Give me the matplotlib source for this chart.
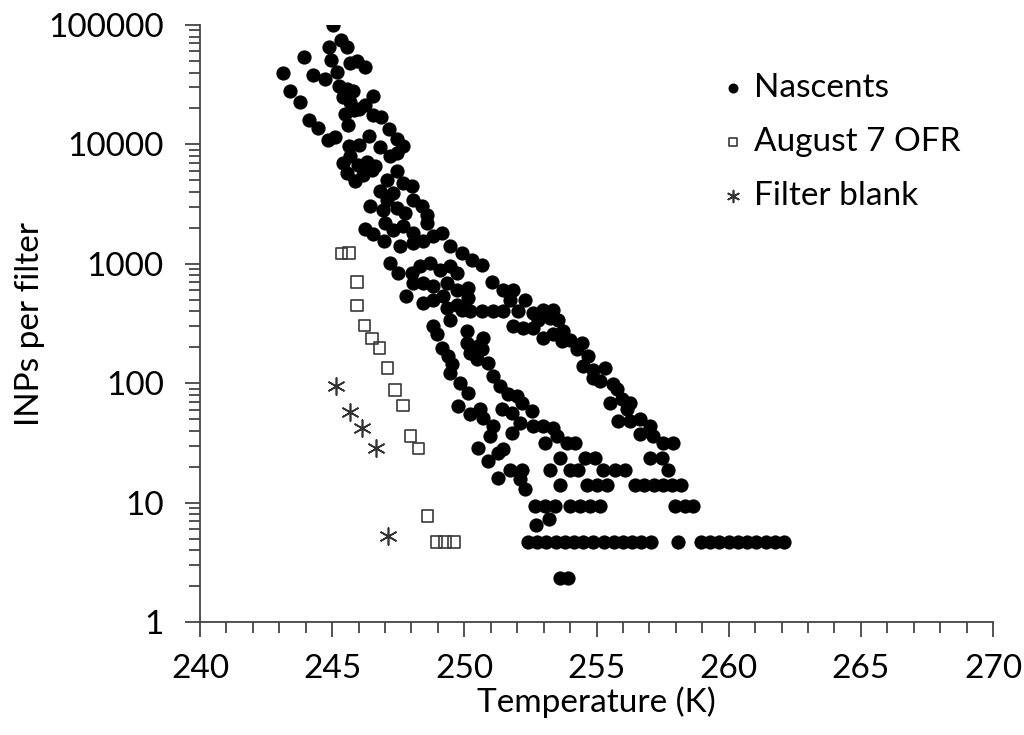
import matplotlib.pyplot as plt
from matplotlib.ticker import MultipleLocator, FixedLocator, LogLocator, NullFormatter

plt.rcParams['font.family'] = ['Lato', 'DejaVu Sans']

# Nascents - scattered points (temperature K, INPs per filter)
nasc_t = [
    245.04, 245.32, 245.57, 244.89, 243.93, 243.13, 243.40, 243.78, 244.11, 244.46,
    244.84, 245.12, 244.97, 245.93, 245.67, 246.23, 244.29, 244.74, 245.19, 245.25,
    245.55, 245.80, 246.53, 245.40, 245.67, 246.00, 246.25, 245.50, 245.83, 245.60,
    246.56, 246.86, 247.14, 247.44, 247.67, 246.38, 246.00, 246.81, 245.63,
    245.42, 245.67, 245.99, 246.31, 246.62, 245.55, 245.86, 246.18, 246.50, 247.19,
    247.44, 247.06, 247.44, 247.69, 248.01, 246.81, 247.06, 247.31, 246.43, 246.93,
    247.44, 247.76, 248.07, 248.39, 248.58, 246.24, 246.56,
    247.00, 247.31, 247.69, 248.07, 248.58, 246.96, 247.57, 248.07, 248.45, 248.83,
    249.14, 249.46, 249.90, 250.28, 250.66, 247.19, 247.50, 248.01, 248.32, 248.70,
    249.08, 249.46, 249.71, 248.07, 248.45, 248.83, 249.33, 249.71, 250.15, 247.79,
    248.45, 248.83, 249.20, 249.33, 249.71, 250.15, 249.90, 250.21, 248.83, 248.95,
    249.46, 250.09, 249.14, 249.39, 249.52, 249.46, 249.84, 250.15, 250.09, 250.21,
    250.47, 250.53,
    251.04, 251.47, 251.85, 251.73, 252.29, 250.66, 251.10, 251.47, 252.04, 252.61,
    252.99, 253.37, 252.80, 253.24, 253.55, 251.85, 252.23, 252.61, 252.99, 253.37,
    253.74, 253.68, 254.00, 254.25, 254.44, 254.69, 254.50, 254.88, 255.32, 254.88,
    255.13, 255.64, 255.76, 250.72, 250.66, 250.91, 251.10, 251.35, 251.66, 251.98,
    249.77, 250.21, 250.59, 250.72, 251.41, 251.79, 252.17, 252.55, 251.10, 250.97,
    251.79, 252.11, 252.61, 252.99, 253.37, 253.05, 253.49, 253.87, 254.19, 250.53,
    250.91, 251.28, 251.47, 251.28, 252.11, 252.29,
    255.51, 255.95, 256.27, 256.14, 255.82, 256.27, 256.65, 257.02, 256.65, 257.15,
    257.53, 257.91,
    252.70, 253.20, 253.62, 253.93,
]
nasc_v = [
    100000, 74900, 65900, 65100, 53700, 39900, 28200, 22700, 16100, 13800,
    10800, 11500, 50900, 50200, 47800, 44300, 37900, 35500, 40500, 30900,
    29300, 27900, 25500, 24900, 22700, 19950, 21300, 18000, 19400, 14500,
    17600, 16900, 13400, 11200, 9730, 11800, 9980, 9490, 9730,
    6980, 7930, 6750, 7190, 6530, 5750, 4900, 5570, 6140, 7930,
    8460, 5060, 5930, 4740, 4450, 4040, 3440, 3920, 3030, 2840,
    2930, 2660, 3440, 3030, 2580, 1970, 1790,
    2200, 1930, 2060, 1810, 2200, 1540, 1400, 1500, 1540, 1700,
    1810, 1400, 1230, 1080, 985, 1020, 840, 840, 953, 1020,
    895, 953, 840, 692, 692, 649, 692, 608, 628, 542,
    471, 502, 535, 428, 456, 519, 414, 401, 300, 256,
    341, 273, 198, 169, 144, 122, 101, 83.3, 218, 180,
    158, 204,
    700, 608, 608, 502, 495, 401, 401, 401, 401, 388,
    414, 414, 341, 353, 341, 300, 291, 291, 240, 256,
    273, 225, 232, 192, 218, 169, 139, 130, 135, 111,
    104, 97.8, 88.9, 240, 192, 148, 115, 94.6, 80.6, 78.0,
    64.4, 54.8, 60.4, 51.5, 60.4, 56.6, 68.7, 58.5, 43.8, 36.1,
    38.5, 46.7, 43.8, 43.8, 42.4, 31.8, 36.1, 31.8, 31.8, 28.9,
    22.3, 26.2, 27.9, 16.2, 15.7, 12.9,
    68.7, 73.2, 68.7, 60.4, 48.2, 48.2, 49.8, 43.8, 37.3, 36.1,
    31.8, 31.5,
    6.5, 7.3, 2.35, 2.35,
]

# Nascents - low counts fall on discrete levels
row_levels = [4.7, 9.4, 14.1, 18.8, 23.5]
row_temps = [
    [252.4, 252.75, 253.1, 253.45, 253.8, 254.15, 254.5, 254.85, 255.3, 255.65,
     256.0, 256.35, 256.7, 257.05, 258.1, 258.95, 259.3, 259.65, 260.0, 260.35,
     260.7, 261.05, 261.4, 261.75, 262.1],
    [252.67, 253.05, 253.43, 254.0, 254.38, 254.75, 255.13, 257.97, 258.35, 258.66],
    [253.62, 254.63, 255.01, 255.39, 256.46, 256.8, 257.16, 257.52, 257.86, 258.2],
    [251.73, 252.17, 253.24, 254.0, 254.31, 255.26, 255.70, 256.08, 257.72],
    [253.62, 254.56, 254.94, 257.02, 257.47],
]

# August 7 OFR
ofr_t = [245.36, 245.64, 245.93, 245.93, 246.22, 246.51, 246.79, 247.09, 247.38,
         247.67, 247.97, 248.26, 248.60, 248.95, 249.27, 249.61]
ofr_v = [1217, 1230, 700, 447, 304, 236, 196, 134, 87.5, 65, 36, 28.3, 7.7,
         4.7, 4.7, 4.7]

# Filter blank
blank_t = [245.15, 245.68, 246.13, 246.66, 247.12]
blank_v = [94.6, 57.3, 42.2, 28.7, 5.3]

all_t = list(nasc_t)
all_v = list(nasc_v)
for lvl, temps in zip(row_levels, row_temps):
    all_t += temps
    all_v += [lvl] * len(temps)

fig = plt.figure(figsize=(10.24, 7.35), dpi=100)
ax = fig.add_axes([200/1024, 1 - 622/735, 793/1024, 597/735])

ax.scatter(all_t, all_v, s=105, color='black', marker='o', linewidths=0,
           label='Nascents', zorder=3)
ax.scatter(ofr_t, ofr_v, s=70, facecolors='none', edgecolors='#3a3a3a',
           marker='s', linewidths=1.2, label='August 7 OFR', zorder=4)
ax.scatter(blank_t, blank_v, s=150, color='#333333', marker=(6, 2, 0),
           linewidths=1.2, label='Filter blank', zorder=4)

ax.set_yscale('log')
ax.set_xlim(240, 270)
ax.set_ylim(1, 100000)
ax.xaxis.set_major_locator(MultipleLocator(5))
ax.xaxis.set_minor_locator(MultipleLocator(1))
ax.yaxis.set_major_locator(FixedLocator([1, 10, 100, 1000, 10000, 100000]))
ax.yaxis.set_minor_locator(LogLocator(base=10, subs=range(2, 10)))
ax.yaxis.set_minor_formatter(NullFormatter())
ax.set_yticklabels(['1', '10', '100', '1000', '10000', '100000'])

for s in ['top', 'right']:
    ax.spines[s].set_visible(False)
for s in ['left', 'bottom']:
    ax.spines[s].set_color('#444444')
    ax.spines[s].set_linewidth(1.3)

ax.tick_params(axis='both', which='major', direction='out', length=11, width=1.3,
               color='#444444', labelsize=24)
ax.tick_params(axis='both', which='minor', direction='out', length=8, width=1.3,
               color='#444444')
ax.tick_params(axis='y', which='major', pad=15)
ax.tick_params(axis='x', which='major', pad=12)

ax.set_xlabel('Temperature (K)', fontsize=24, labelpad=2)
ax.set_ylabel('INPs per filter', fontsize=24, labelpad=2)

ax.legend(loc='upper left', bbox_to_anchor=(686/1024, 1 - 43/735),
          bbox_transform=fig.transFigure, frameon=False, fontsize=24,
          markerscale=0.7, handletextpad=0.15, labelspacing=0.72,
          handlelength=1.0)

fig.savefig('out.png', dpi=100)
